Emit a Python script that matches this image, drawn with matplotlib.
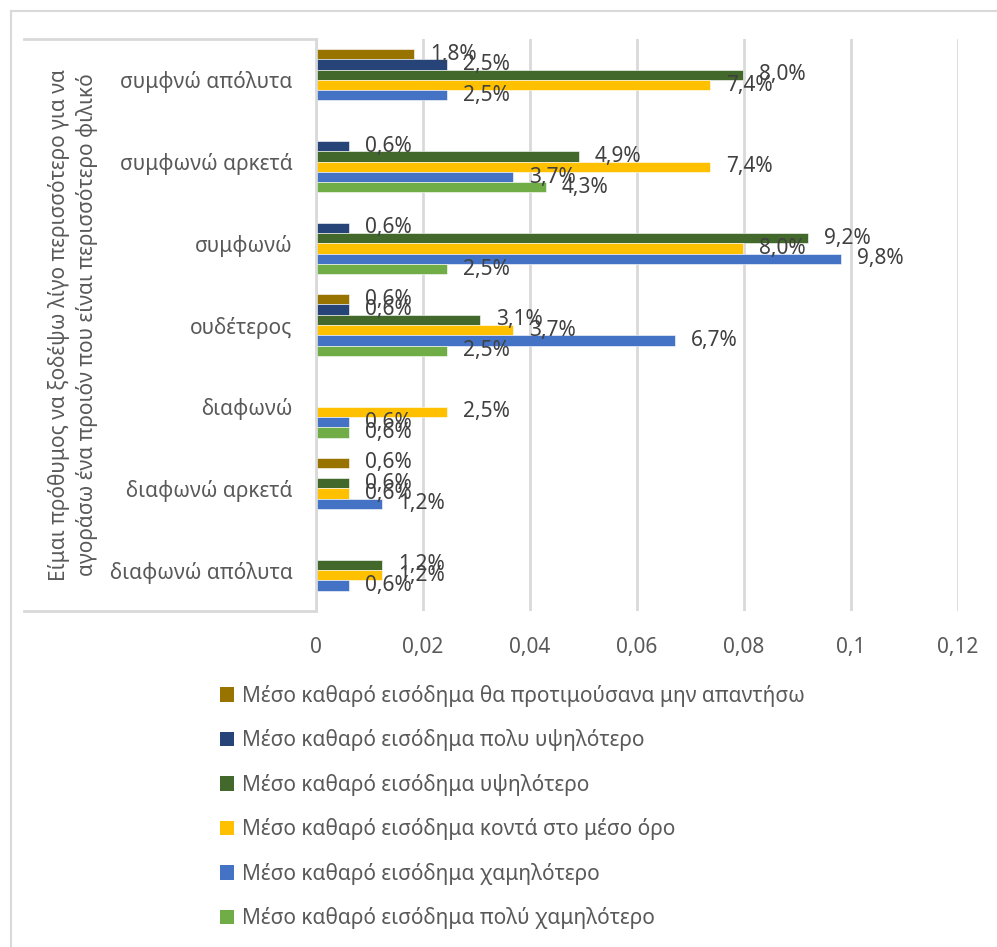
"""
Grouped horizontal bars: willingness to pay more for eco product, by income group
"""

import matplotlib.pyplot as plt
from matplotlib.patches import Patch
from matplotlib.lines import Line2D
import numpy as np

plt.rcParams['font.family'] = ['Noto Sans', 'DejaVu Sans']

# Data (categories listed top to bottom)
categories = ['συμφνώ απόλυτα', 'συμφωνώ αρκετά', 'συμφωνώ', 'ουδέτερος',
              'διαφωνώ', 'διαφωνώ αρκετά', 'διαφωνώ απόλυτα']

no_answer   = [0.0184, 0, 0, 0.0061, 0, 0.0061, 0]
much_higher = [0.0245, 0.0061, 0.0061, 0.0061, 0, 0, 0]
higher      = [0.0798, 0.0491, 0.0920, 0.0307, 0, 0.0061, 0.0123]
average     = [0.0736, 0.0736, 0.0798, 0.0368, 0.0245, 0.0061, 0.0123]
lower       = [0.0245, 0.0368, 0.0982, 0.0671, 0.0061, 0.0123, 0.0061]
much_lower  = [0, 0.0429, 0.0245, 0.0245, 0.0061, 0, 0]

series_names = ['Μέσο καθαρό εισόδημα θα προτιμούσανα μην απαντήσω',
                'Μέσο καθαρό εισόδημα πολυ υψηλότερο',
                'Μέσο καθαρό εισόδημα υψηλότερο',
                'Μέσο καθαρό εισόδημα κοντά στο μέσο όρο',
                'Μέσο καθαρό εισόδημα χαμηλότερο',
                'Μέσο καθαρό εισόδημα πολύ χαμηλότερο']
series_vals = [no_answer, much_higher, higher, average, lower, much_lower]
colors = ['#997300', '#264478', '#43682B', '#FFC000', '#4472C4', '#70AD47']

xticks = [0, 0.02, 0.04, 0.06, 0.08, 0.1, 0.12]
xtick_labels = ['0', '0,02', '0,04', '0,06', '0,08', '0,1', '0,12']

ytitle = ('Είμαι πρόθυμος να ξοδέψω λίγο περισσότερο για να\n'
          'αγοράσω ένα προιόν που είναι περισσότερο φιλικό')

W, H = 997, 947
fig = plt.figure(figsize=(W / 100, H / 100), dpi=100)
ax = fig.add_axes([316 / W, 1 - 611 / H, (958 - 316) / W, (611 - 39) / H])

n = len(categories)
ypos = np.arange(n)[::-1]
h = 0.126
fs = 15
label_color = '#404040'

for k, (name, vals, c) in enumerate(zip(series_names, series_vals, colors)):
    # k=0 is the top bar of every group
    offs = (2.5 - k) * h
    y = ypos + offs
    ax.barh(y, vals, height=h, color=c, edgecolor='white', linewidth=0.4,
            label=name, zorder=3)
    for yy, v in zip(y, vals):
        if v > 0:
            ax.text(v + 0.003, yy, f'{v * 100:.1f}%'.replace('.', ','),
                    va='center', ha='left', fontsize=fs, color=label_color,
                    zorder=4)

ax.set_xlim(0, 0.12)
ax.set_ylim(-0.5, n - 0.5)
ax.set_xticks(xticks)
ax.set_xticklabels(xtick_labels)
ax.set_yticks(ypos)
ax.set_yticklabels(categories)
ax.tick_params(axis='both', length=0, labelsize=fs, colors='#595959')
ax.tick_params(axis='y', pad=17)
ax.tick_params(axis='x', pad=19)
ax.xaxis.grid(True, color='#d9d9d9', linewidth=2, zorder=0)
for s in ['top', 'right', 'bottom']:
    ax.spines[s].set_visible(False)
ax.spines['left'].set_color('#d9d9d9')
ax.spines['left'].set_linewidth(2)
ax.spines['left'].set_zorder(5)

# box lines around the category/title area
gray = '#d9d9d9'
fig.add_artist(Line2D([24 / W, 316 / W], [1 - 39 / H, 1 - 39 / H], color=gray, lw=2))
fig.add_artist(Line2D([24 / W, 316 / W], [1 - 611 / H, 1 - 611 / H], color=gray, lw=2))
# outer chart border (top and left visible)
fig.add_artist(Line2D([11 / W, 1], [1 - 11 / H, 1 - 11 / H], color=gray, lw=1.5))
fig.add_artist(Line2D([11 / W, 11 / W], [0, 1 - 11 / H], color=gray, lw=1.5))

fig.text(73 / W, 1 - 325 / H, ytitle, rotation=90, ha='center', va='center',
         fontsize=fs, color='#595959', linespacing=1.3)

handles = [Patch(facecolor=c) for c in colors]
fig.legend(handles, series_names, loc='upper left',
           bbox_to_anchor=(201 / W, 1 - 666 / H), frameon=False,
           fontsize=fs, labelcolor='#595959', handlelength=0.7,
           handleheight=0.7, handletextpad=0.35, labelspacing=1.08)

plt.savefig('out.png', dpi=100)
